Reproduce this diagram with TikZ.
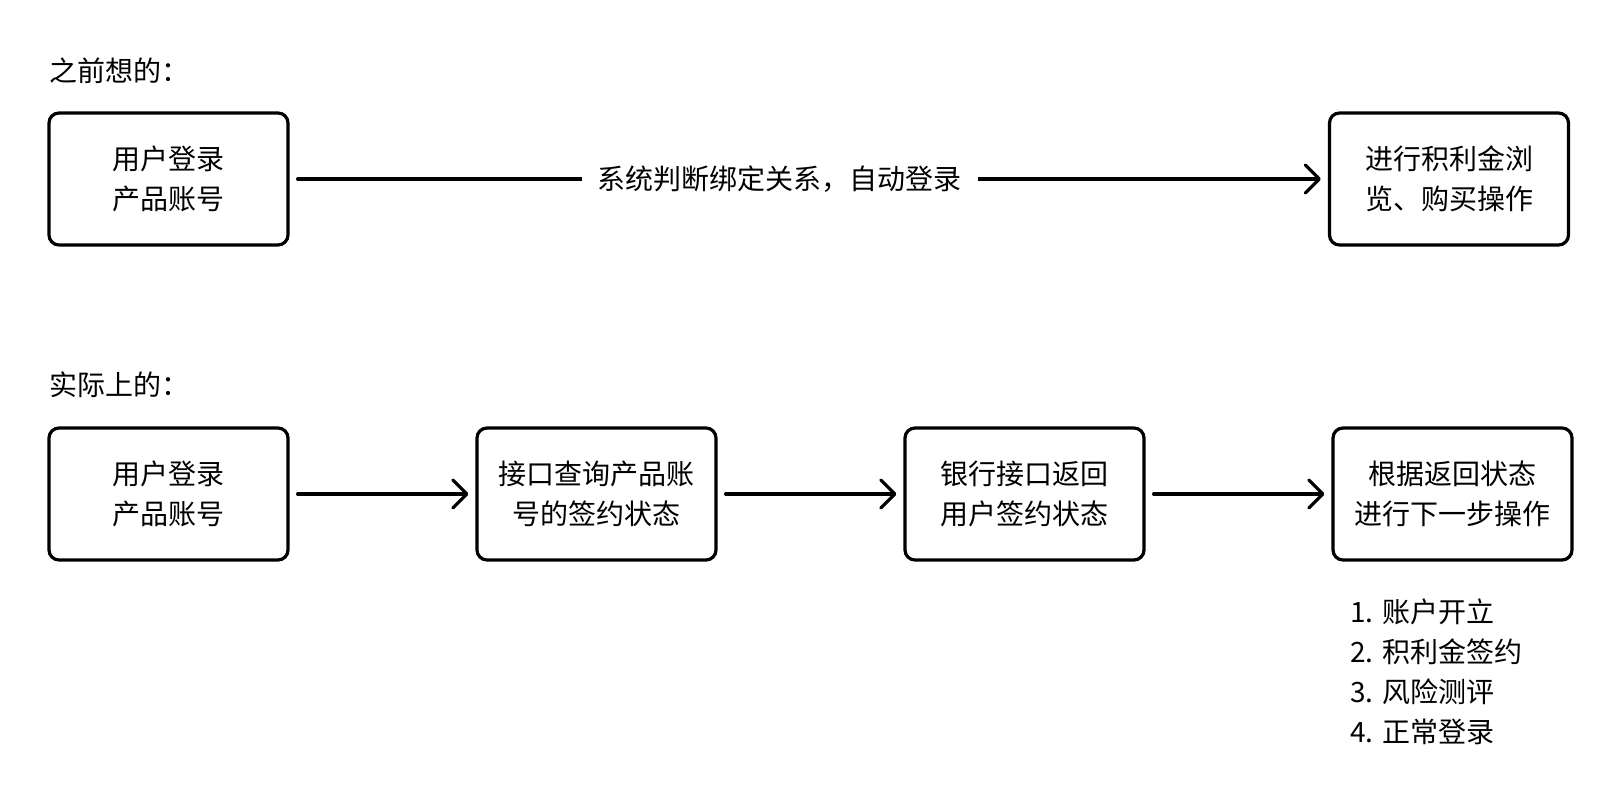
\documentclass[tikz,border=0pt]{standalone}
\usepackage{fontspec}
\setmainfont{Noto Sans CJK SC}
\usetikzlibrary{positioning,arrows.meta}

\tikzset{
  stepbox/.style={draw, line width=1.6pt, rounded corners=5pt, minimum width=119.5pt, minimum height=66pt, align=center, inner sep=0pt},
  flow/.style={line width=1.6pt, line cap=round, -{Straight Barb[length=7pt,width=14pt,line cap=round,round]}, shorten <=4pt, shorten >=3.5pt},
}

\begin{document}
\begin{tikzpicture}[font=\fontsize{14pt}{20pt}\selectfont, node distance=92.9pt]
	\useasboundingbox (0,0) rectangle (810pt,-400pt);

	% before
	\node[anchor=west, inner sep=0pt] (title1) at (24.5pt,-35.5pt) {之前想的：};
	\node[stepbox] (login1) at (84.25pt,-89.5pt) {用户登录\\产品账号};
	\node[stepbox] (browse) at (724.5pt,-89.5pt) {进行积利金浏\\览、购买操作};
	\draw[flow] (login1) -- node[pos=0.472, fill=white, inner xsep=8pt] (auto) {系统判断绑定关系，自动登录} (browse);

	% actual
	\node[anchor=west, inner sep=0pt] (title2) at (24.5pt,-192.5pt) {实际上的：};
	\node[stepbox] (login2) at (84.25pt,-247pt) {用户登录\\产品账号};
	\node[stepbox, right=of login2] (query) {接口查询产品账\\号的签约状态};
	\node[stepbox, right=of query] (bank) {银行接口返回\\用户签约状态};
	\node[stepbox, right=of bank] (next) {根据返回状态\\进行下一步操作};
	\draw[flow] (login2) -- (query);
	\draw[flow] (query) -- (bank);
	\draw[flow] (bank) -- (next);

	\foreach \i/\t in {1/账户开立, 2/积利金签约, 3/风险测评, 4/正常登录}
		\node[anchor=west, inner sep=0pt] (item\i) at (675pt,{-306pt-(\i-1)*20pt}) {\i. \t};
\end{tikzpicture}
\end{document}
